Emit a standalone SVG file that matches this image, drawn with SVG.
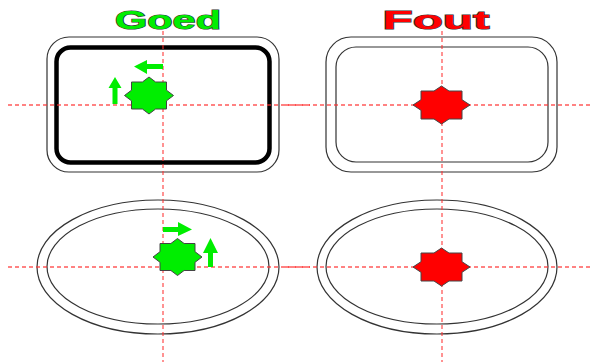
<svg xmlns="http://www.w3.org/2000/svg" width="590" height="362" viewBox="0 0 590 362">
<style>
.frame{fill:none;stroke:#333;stroke-width:1.2}
.thick{fill:none;stroke:#000;stroke-width:4.5}
.guide{fill:none;stroke:#ff3030;stroke-opacity:0.8;stroke-width:1.3;stroke-dasharray:4 3}
.good{fill:#00ee00;stroke:#444;stroke-width:1}
.bad{fill:#ff0000;stroke:#444;stroke-width:1}
.arrow{fill:#00ee00;stroke:none}
.title{font-family:"Liberation Sans",Arial,sans-serif;font-weight:bold;font-size:26px;stroke:#333;stroke-width:1.2;paint-order:stroke}
</style>
<defs>
<polygon id="starG" points="0,-18.5 6.6,-13.5 17.5,-13.5 17.5,-5.3 24.5,0 17.5,5.3 17.5,13.5 6.6,13.5 0,18.5 -6.6,13.5 -17.5,13.5 -17.5,5.3 -24.5,0 -17.5,-5.3 -17.5,-13.5 -6.6,-13.5"/>
<polygon id="starR" points="0,-19 7.5,-14 20.5,-14 20.5,-5.3 28.5,0 20.5,5.3 20.5,14 7.5,14 0,19 -7.5,14 -20.5,14 -20.5,5.3 -28.5,0 -20.5,-5.3 -20.5,-14 -7.5,-14"/>
</defs>
<text class="title" x="168" y="29" text-anchor="middle" fill="#00ee00" textLength="106" lengthAdjust="spacingAndGlyphs">Goed</text>
<text class="title" x="436" y="29" text-anchor="middle" fill="#ff0000" textLength="107" lengthAdjust="spacingAndGlyphs">Fout</text>
<g id="good-rect">
<rect class="frame" x="47" y="37" width="232" height="135" rx="22"/>
<rect class="thick" x="56.5" y="47.5" width="213" height="115" rx="14"/>
</g>
<g id="bad-rect">
<rect class="frame" x="326" y="37" width="231" height="135" rx="25"/>
<rect class="frame" x="336" y="47" width="212" height="115" rx="20"/>
</g>
<g id="good-ellipse">
<ellipse class="frame" cx="158" cy="267" rx="121" ry="67"/>
<ellipse class="frame" cx="158" cy="266.5" rx="111" ry="57.5"/>
</g>
<g id="bad-ellipse">
<ellipse class="frame" cx="437" cy="267" rx="120" ry="67"/>
<ellipse class="frame" cx="437" cy="266.5" rx="111" ry="57.5"/>
</g>
<g id="guides">
<line class="guide" x1="8" y1="105" x2="310" y2="105"/>
<line class="guide" x1="285" y1="105" x2="590" y2="105"/>
<line class="guide" x1="8" y1="267" x2="310" y2="267"/>
<line class="guide" x1="285" y1="267" x2="590" y2="267"/>
<line class="guide" x1="163" y1="31" x2="163" y2="362"/>
<line class="guide" x1="442" y1="31" x2="442" y2="362"/>
</g>
<g id="good-star-top"><use href="#starG" class="good" transform="translate(149,95.5)"/></g>
<g id="good-star-bottom"><use href="#starG" class="good" transform="translate(177.5,257)"/></g>
<g id="bad-star-top"><use href="#starR" class="bad" transform="translate(441.5,105)"/></g>
<g id="bad-star-bottom"><use href="#starR" class="bad" transform="translate(441.5,267)"/></g>
<g id="arrows">
<polygon class="arrow" points="112.5,104 117.5,104 117.5,88 121.5,88 115,77 108.5,88 112.5,88"/>
<polygon class="arrow" points="163,64 163,69 147,69 147,74 134,66.5 147,60 147,64"/>
<polygon class="arrow" points="163,227 163,232 178,232 178,236 192,229.5 178,222 178,227"/>
<polygon class="arrow" points="208,267 213,267 213,253 218,253 210.5,238 203,253 208,253"/>
</g>
</svg>
